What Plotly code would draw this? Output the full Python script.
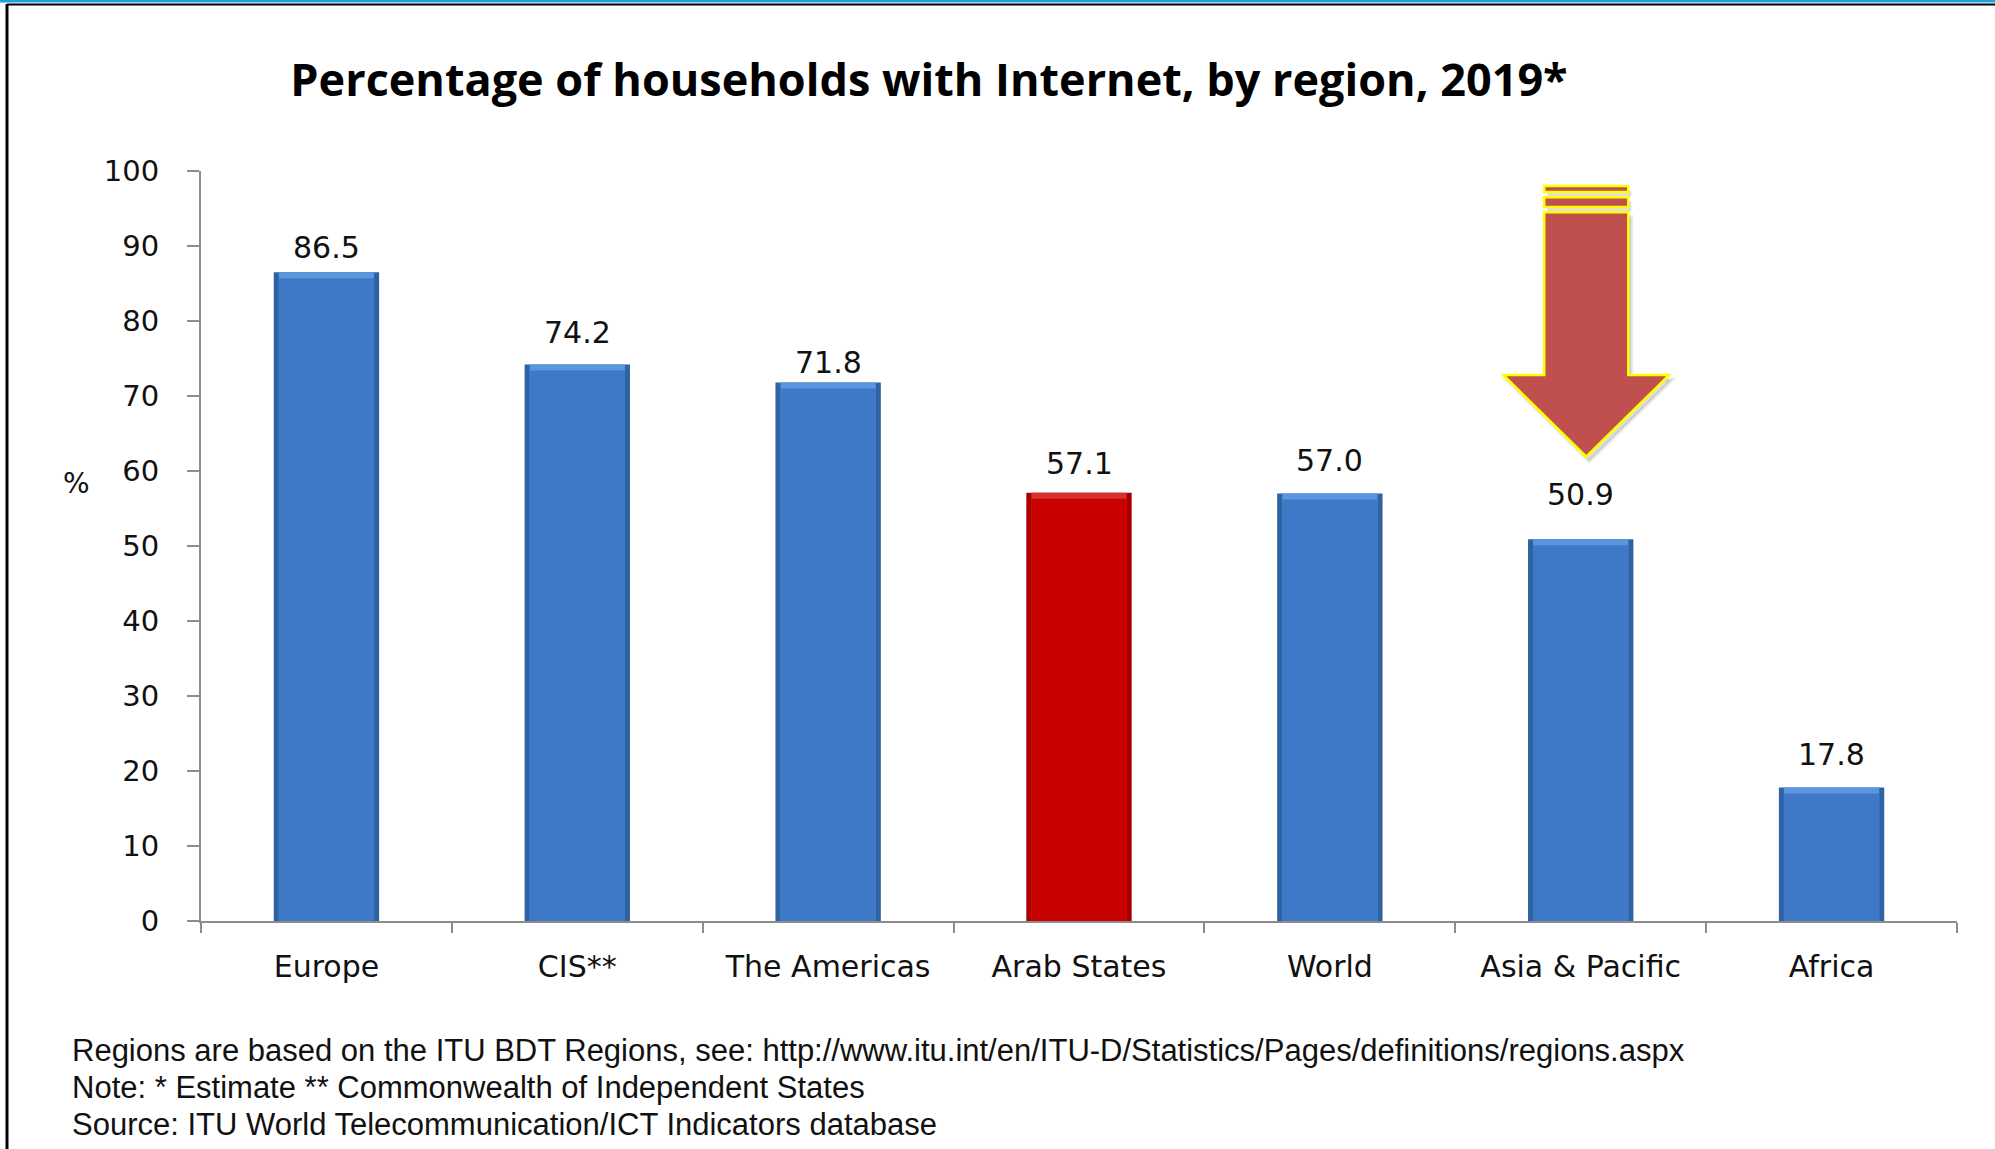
import plotly.graph_objects as go

regions = ["Europe", "CIS**", "The Americas", "Arab States", "World", "Asia & Pacific", "Africa"]
values = [86.5, 74.2, 71.8, 57.1, 57.0, 50.9, 17.8]
highlight = "Arab States"
y_ticks = [0, 10, 20, 30, 40, 50, 60, 70, 80, 90, 100]

title_text = "Percentage of households with Internet, by region, 2019*"
notes = [
    "Regions are based on the ITU BDT Regions, see: http://www.itu.int/en/ITU-D/Statistics/Pages/definitions/regions.aspx",
    "Note: * Estimate ** Commonwealth of Independent States",
    "Source: ITU World Telecommunication/ICT Indicators database",
]

# label offsets above bar tops (pixels), styling only
label_shift_px = [5, 12.5, 1, 10, 14, 25, 14]

W, H = 1995, 1149
ML, MR, MT, MB = 201, 38, 171, 228
PW, PH = W - ML - MR, H - MT - MB

def px2paper_x(px):
    return (px - ML) / PW

def px2paper_y(py):
    return (H - MB - py) / PH

outer_cols = ["#a80000" if r == highlight else "#2f62a3" for r in regions]
inner_cols = ["#c90000" if r == highlight else "#3d79c6" for r in regions]
top_cols = ["#d83030" if r == highlight else "#5a95de" for r in regions]

fig = go.Figure()
fig.add_trace(go.Bar(x=regions, y=values, width=0.42, marker=dict(color=outer_cols, line=dict(width=0)),
                     hoverinfo="skip", showlegend=False))
fig.add_trace(go.Bar(x=regions, y=values, width=0.38, marker=dict(color=top_cols, line=dict(width=0)),
                     hoverinfo="skip", showlegend=False))
fig.add_trace(go.Bar(x=regions, y=[v - 0.8 for v in values], width=0.38,
                     marker=dict(color=inner_cols, line=dict(width=0)),
                     hoverinfo="skip", showlegend=False))

annotations = []
for r, v, s in zip(regions, values, label_shift_px):
    annotations.append(dict(x=r, y=v, xref="x", yref="y", text=f"{v:.1f}", showarrow=False,
                            yanchor="bottom", yshift=s,
                            font=dict(family="DejaVu Sans", size=30, color="#111")))

for i, t in enumerate(notes):
    annotations.append(dict(x=px2paper_x(70), y=px2paper_y(1050 + i * 37), xref="paper", yref="paper",
                            text=t, showarrow=False, xanchor="left", yanchor="middle",
                            font=dict(family="Liberation Sans", size=31, color="#111")))

annotations.append(dict(x=px2paper_x(76), y=px2paper_y(483), xref="paper", yref="paper", text="%",
                        showarrow=False, xanchor="center", yanchor="middle",
                        font=dict(family="DejaVu Sans", size=28, color="#111")))

# decorative arrow above Asia & Pacific (category index 5)
cx = 5.022
hs, hh = 0.1675, 0.331

def arrow(dx=0.0, dy=0.0):
    pts = [(cx - hs, 94.5), (cx + hs, 94.5), (cx + hs, 72.8), (cx + hh, 72.8), (cx, 61.9),
           (cx - hh, 72.8), (cx - hs, 72.8)]
    return "M " + " L ".join(f"{x + dx},{y + dy}" for x, y in pts) + " Z"

bands = [(97.2, 98.0), (95.2, 96.5)]
shapes = []
sdx, sdy = 0.012, -0.6
shapes.append(dict(type="path", xref="x", yref="y", path=arrow(sdx, sdy), fillcolor="rgba(0,0,0,0.13)",
                   line=dict(color="rgba(0,0,0,0.08)", width=4), layer="above"))
for (y0, y1) in bands:
    shapes.append(dict(type="rect", xref="x", yref="y", x0=cx - hs + sdx, x1=cx + hs + sdx, y0=y0 + sdy,
                       y1=y1 + sdy, fillcolor="rgba(0,0,0,0.13)", line=dict(width=0), layer="above"))
for (y0, y1) in bands:
    shapes.append(dict(type="rect", xref="x", yref="y", x0=cx - hs, x1=cx + hs, y0=y0, y1=y1,
                       fillcolor="#c0504d", line=dict(color="#ffff00", width=2.5), layer="above"))
shapes.append(dict(type="path", xref="x", yref="y", path=arrow(), fillcolor="#c0504d",
                   line=dict(color="#ffff00", width=2.5), layer="above"))

# frame lines
shapes.append(dict(type="line", xref="paper", yref="paper", x0=px2paper_x(0), x1=px2paper_x(W),
                   y0=px2paper_y(1), y1=px2paper_y(1), line=dict(color="#19a3dd", width=3)))
shapes.append(dict(type="line", xref="paper", yref="paper", x0=px2paper_x(7), x1=px2paper_x(W),
                   y0=px2paper_y(4.5), y1=px2paper_y(4.5), line=dict(color="#000", width=2)))
shapes.append(dict(type="line", xref="paper", yref="paper", x0=px2paper_x(7), x1=px2paper_x(7),
                   y0=px2paper_y(4), y1=px2paper_y(H), line=dict(color="#000", width=3)))

fig.update_layout(
    width=W, height=H,
    margin=dict(l=ML, r=MR, t=MT, b=MB, pad=0),
    paper_bgcolor="white", plot_bgcolor="white",
    barmode="overlay",
    title=dict(text=f"<b>{title_text}</b>", x=929 / W, y=1 - 80 / H, xanchor="center", yanchor="middle",
               font=dict(family="Open Sans", size=45, color="#000")),
    xaxis=dict(type="category", range=[-0.5, 6.5], tickson="boundaries", ticks="outside", ticklen=10,
               tickwidth=2, tickcolor="#8c8c8c", showline=True, linecolor="#8c8c8c", linewidth=2,
               showgrid=False, ticklabelstandoff=18, fixedrange=True,
               tickfont=dict(family="DejaVu Sans", size=30, color="#111")),
    yaxis=dict(range=[0, 100], tickvals=y_ticks, ticks="outside", ticklen=12, tickwidth=2,
               tickcolor="#8c8c8c", showline=True, linecolor="#8c8c8c", linewidth=2, showgrid=False,
               zeroline=False, ticklabelstandoff=22, fixedrange=True,
               tickfont=dict(family="DejaVu Sans", size=29, color="#111")),
    annotations=annotations,
    shapes=shapes,
)

fig.write_html("out.html", config={"displayModeBar": False})
